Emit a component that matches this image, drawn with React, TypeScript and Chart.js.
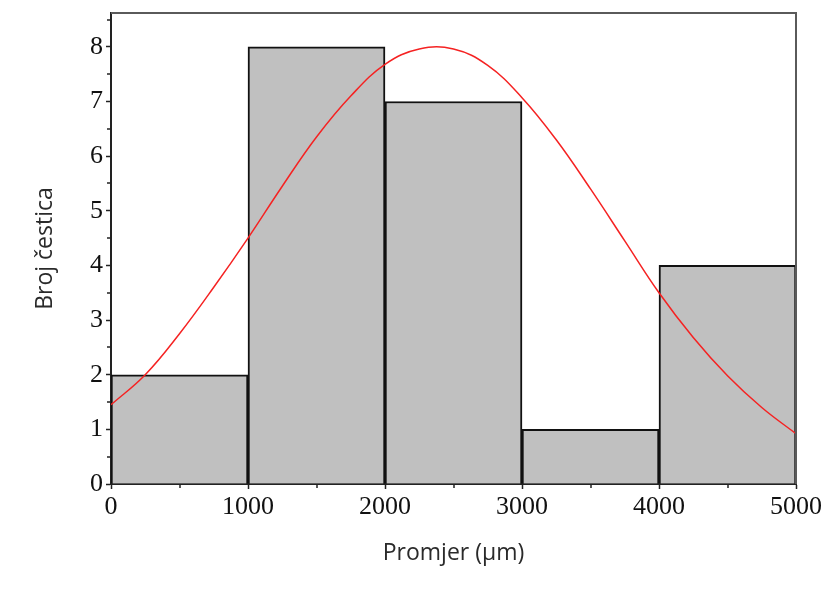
import React, { useEffect, useRef } from 'react';
import { Chart, registerables } from 'chart.js';

Chart.register(...registerables);

// Histogram bins (centres, width 1000 µm) and counts
const binCenters = [500, 1500, 2500, 3500, 4500];
const binCounts = [2, 8, 7, 1, 4];

// Fitted curve
const curveX = [0, 250, 500, 750, 1000, 1250, 1500, 1750, 2000, 2250, 2500, 2750, 3000, 3250, 3500, 3750, 4000, 4250, 4500, 4750, 5000];
const curveY = [1.45, 2.0, 2.75, 3.6, 4.5, 5.45, 6.35, 7.1, 7.68, 7.96, 7.96, 7.66, 7.07, 6.3, 5.4, 4.45, 3.5, 2.68, 1.98, 1.4, 0.92];

// Axes
const xMin = 0;
const xMax = 5000;
const xStep = 1000;
const xMinorTicks = [500, 1500, 2500, 3500, 4500];
const yMin = 0;
const yMax = 8.62;
const yStep = 1;
const yMinorTicks = [0.5, 1.5, 2.5, 3.5, 4.5, 5.5, 6.5, 7.5, 8.5];

const xTitle = 'Promjer (µm)';
const yTitle = 'Broj čestica';

const frameAndMinor = {
  id: 'frameAndMinor',
  afterDraw(chart: any) {
    const { ctx, chartArea, scales } = chart;
    const { left, right, top, bottom } = chartArea;
    ctx.save();
    // top & right frame
    ctx.strokeStyle = '#5a5a5a';
    ctx.lineWidth = 2;
    ctx.beginPath();
    ctx.moveTo(left, top);
    ctx.lineTo(right, top);
    ctx.lineTo(right, bottom);
    ctx.stroke();
    // minor ticks
    ctx.strokeStyle = '#222';
    ctx.lineWidth = 1.5;
    ctx.beginPath();
    xMinorTicks.forEach((v) => {
      const px = Math.round(scales.x.getPixelForValue(v));
      ctx.moveTo(px, bottom);
      ctx.lineTo(px, bottom + 4);
    });
    yMinorTicks.forEach((v) => {
      const py = Math.round(scales.y.getPixelForValue(v));
      ctx.moveTo(left - 4, py);
      ctx.lineTo(left, py);
    });
    ctx.stroke();
    ctx.restore();
  },
};

export default function App() {
  const ref = useRef<HTMLCanvasElement | null>(null);

  useEffect(() => {
    document.body.style.margin = '0';
    const canvas = ref.current;
    if (!canvas) return;
    const chart = new Chart(canvas, {
      type: 'bar',
      data: {
        datasets: [
          {
            type: 'line',
            data: curveX.map((x, i) => ({ x, y: curveY[i] })),
            borderColor: '#f52222',
            borderWidth: 1.5,
            pointRadius: 0,
            tension: 0.4,
            fill: false,
            order: 0,
          } as any,
          {
            type: 'bar',
            data: binCenters.map((x, i) => ({ x, y: binCounts[i] })),
            backgroundColor: '#c0c0c0',
            borderColor: '#111',
            borderWidth: 2,
            barPercentage: 1,
            categoryPercentage: 1,
            order: 1,
          } as any,
        ],
      },
      options: {
        animation: false,
        responsive: false,
        devicePixelRatio: 1,
        layout: { padding: { left: 0, top: 13, right: 41, bottom: 0 } },
        plugins: { legend: { display: false }, tooltip: { enabled: false } },
        scales: {
          x: {
            type: 'linear',
            min: xMin,
            max: xMax,
            offset: false,
            grid: {
              offset: false,
              drawOnChartArea: false,
              drawTicks: true,
              tickLength: 5,
              tickWidth: 1.5,
              tickColor: '#222',
            },
            border: { color: '#222', width: 2 },
            ticks: {
              stepSize: xStep,
              includeBounds: false,
              padding: 3,
              color: '#111',
              maxRotation: 0,
              autoSkip: false,
              font: { family: '"Liberation Serif", "Times New Roman", serif', size: 26 },
              callback: (v: any) => String(v),
            },
            title: {
              display: true,
              text: xTitle,
              color: '#2a2a2a',
              font: { family: '"Open Sans", sans-serif', size: 23 },
              padding: { top: 0, bottom: 22 },
            },
            afterFit: (s: any) => {
              s.height = 105;
              s.paddingLeft = 0;
              s.paddingRight = 0;
            },
          },
          y: {
            type: 'linear',
            min: yMin,
            max: yMax,
            grid: {
              drawOnChartArea: false,
              drawTicks: true,
              tickLength: 5,
              tickWidth: 1.5,
              tickColor: '#222',
            },
            border: { color: '#222', width: 2 },
            ticks: {
              stepSize: yStep,
              includeBounds: false,
              padding: 3,
              color: '#111',
              font: { family: '"Liberation Serif", "Times New Roman", serif', size: 26 },
              callback: (v: any) => (Number.isInteger(v) ? String(v) : ''),
            },
            title: {
              display: true,
              text: yTitle,
              color: '#2a2a2a',
              font: { family: '"Open Sans", sans-serif', size: 23 },
              padding: { top: 32, bottom: 0 },
            },
            afterFit: (s: any) => {
              s.width = 111;
              s.paddingTop = 0;
              s.paddingBottom = 0;
            },
          },
        },
      } as any,
      plugins: [frameAndMinor],
    });
    return () => chart.destroy();
  }, []);

  return (
    <div style={{ position: 'absolute', left: 0, top: 0, width: 837, height: 589 }}>
      <canvas ref={ref} width={837} height={589} />
    </div>
  );
}
